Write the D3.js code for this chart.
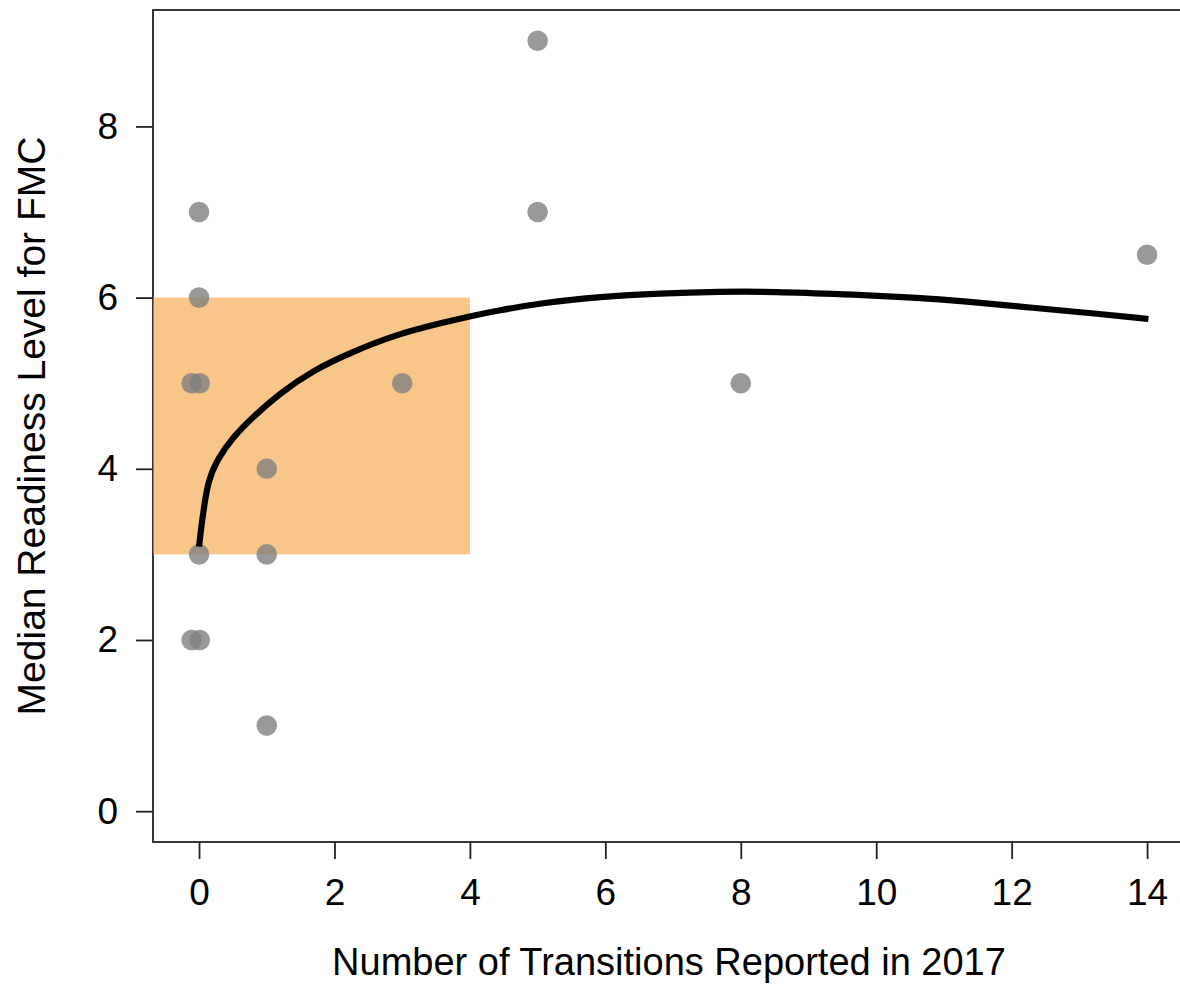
<!DOCTYPE html>
<html>
<head>
<meta charset="utf-8">
<script src="https://cdn.jsdelivr.net/npm/d3@7"></script>
<style>
  html, body { margin: 0; padding: 0; background: #fff; }
  svg { display: block; font-family: "Liberation Sans", Arial, sans-serif; }
</style>
</head>
<body>
<svg id="chart" width="1180" height="988"></svg>
<script>
// Observed transitions vs. median readiness level
const pointX = [0, 0, -0.11, 0.01, 0, -0.11, 0.01, 1, 1, 1, 3, 5, 5, 8, 14];
const pointY = [7, 6, 5, 5, 3, 2, 2, 4, 3, 1, 5, 9, 7, 5, 6.5];

// Fitted trend curve
const curveX = [0, 0.03, 0.06, 0.13, 0.26, 0.5, 0.8, 1.19, 1.68, 2.27, 2.92, 3.56, 4.05, 4.42,
                5.08, 5.92, 6.81, 7.69, 8.48, 9.51, 10.6, 11.28, 12.32, 13.3, 14.02];
const curveY = [3.09, 3.3, 3.48, 3.85, 4.10, 4.37, 4.61, 4.88, 5.15, 5.37, 5.57, 5.70, 5.79, 5.85,
                5.94, 6.01, 6.05, 6.07, 6.07, 6.04, 6.00, 5.96, 5.88, 5.81, 5.75];

// Highlighted region
const bandX = [-0.68, 4];
const bandY = [3, 6];

const xTicks = [0, 2, 4, 6, 8, 10, 12, 14];
const yTicks = [0, 2, 4, 6, 8];

const xLabel = "Number of Transitions Reported in 2017";
const yLabel = "Median Readiness Level for FMC";

const svg = d3.select("#chart");
const plotLeft = 153, plotRight = 1185, plotTop = 10, plotBottom = 842;

const x = d3.scaleLinear().domain([-0.68, 14.56]).range([plotLeft, plotRight]);
const y = d3.scaleLinear().domain([-0.36, 9.36]).range([plotBottom, plotTop]);

const axisColor = "#222";

// plot frame
svg.append("rect")
  .attr("x", plotLeft).attr("y", plotTop)
  .attr("width", plotRight - plotLeft).attr("height", plotBottom - plotTop)
  .attr("fill", "none").attr("stroke", axisColor).attr("stroke-width", 1.8);

// shaded band
svg.append("rect")
  .attr("x", x(bandX[0])).attr("y", y(bandY[1]))
  .attr("width", x(bandX[1]) - x(bandX[0]))
  .attr("height", y(bandY[0]) - y(bandY[1]))
  .attr("fill", "#F5A03C").attr("fill-opacity", 0.6);

// points
const pts = pointX.map((v, i) => ({ x: v, y: pointY[i] }));
svg.append("g").selectAll("circle").data(pts).join("circle")
  .attr("cx", d => x(d.x)).attr("cy", d => y(d.y)).attr("r", 10.3)
  .attr("fill", "#808080").attr("fill-opacity", 0.8);

// trend line
const line = d3.line().x(d => x(d[0])).y(d => y(d[1])).curve(d3.curveBasis);
svg.append("path")
  .datum(curveX.map((v, i) => [v, curveY[i]]))
  .attr("d", line)
  .attr("fill", "none").attr("stroke", "#000").attr("stroke-width", 6.2)
  .attr("stroke-linejoin", "round");

// axes
const xAxis = svg.append("g").attr("transform", `translate(0,${plotBottom})`)
  .call(d3.axisBottom(x).tickValues(xTicks).tickSize(17).tickPadding(20).tickFormat(d3.format("d")));
const yAxis = svg.append("g").attr("transform", `translate(${plotLeft},0)`)
  .call(d3.axisLeft(y).tickValues(yTicks).tickSize(17).tickPadding(18).tickFormat(d3.format("d")));

[xAxis, yAxis].forEach(g => {
  g.select(".domain").remove();
  g.selectAll(".tick line").attr("stroke", axisColor).attr("stroke-width", 1.8);
  g.selectAll(".tick text").attr("fill", "#000")
    .style("font-size", "37px").style("font-family", "'Liberation Sans', Arial, sans-serif");
});

// axis titles
svg.append("text")
  .attr("x", (plotLeft + plotRight) / 2).attr("y", 975)
  .attr("text-anchor", "middle")
  .style("font-size", "38px").attr("fill", "#000")
  .text(xLabel);

svg.append("text")
  .attr("transform", `translate(45,${(plotTop + plotBottom) / 2}) rotate(-90)`)
  .attr("text-anchor", "middle")
  .style("font-size", "39px").attr("fill", "#000")
  .text(yLabel);
</script>
</body>
</html>
